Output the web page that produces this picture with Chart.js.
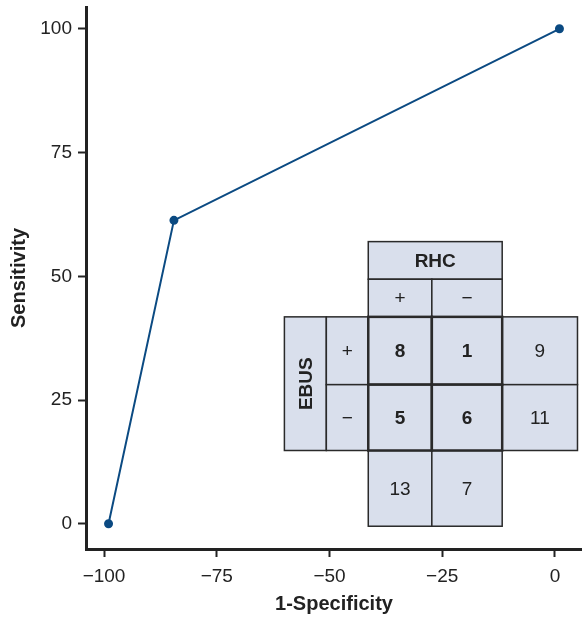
<!DOCTYPE html>
<html>
<head>
<meta charset="utf-8">
<script src="https://cdn.jsdelivr.net/npm/chart.js@4"></script>
<style>
html,body{margin:0;padding:0;background:#fff;}
#wrap{width:582px;height:620px;position:relative;}
</style>
</head>
<body>
<div id="wrap"><canvas id="c" width="582" height="620"></canvas></div>
<script>
// ---- data ----
const oneMinusSpecificity = [-99, -84.5, 1];
const sensitivity = [0, 61.3, 100];
const xTicks = [-100, -75, -50, -25, 0];
const yTicks = [0, 25, 50, 75, 100];

// contingency table (EBUS vs RHC)
const rhcTitle = "RHC";
const ebusTitle = "EBUS";
const rhcLevels = ["+", "\u2212"];
const ebusLevels = ["+", "\u2212"];
const counts = [[8, 1], [5, 6]];
const rowTotals = [9, 11];
const colTotals = [13, 7];

// table grid layout in data coordinates
const tableColEdges = [-60, -50.7, -41.4, -27.3, -11.7, 5.0];
const tableRowEdges = [57.0, 49.4, 41.8, 28.1, 14.8, -0.5];

const FONT = "'Liberation Sans', Arial, Helvetica, sans-serif";
const fmt = v => String(v).replace('-', '\u2212');

// keep the plot area flush with the canvas edges (no extra point padding)
Chart.registry.getController('line').prototype.getMaxOverflow = function () { return 0; };

const tablePlugin = {
  id: 'ctable',
  afterDatasetsDraw(chart) {
    const ctx = chart.ctx;
    const xs = chart.scales.x, ys = chart.scales.y;
    const X = tableColEdges.map(v => xs.getPixelForValue(v));
    const Y = tableRowEdges.map(v => ys.getPixelForValue(v));
    const fill = '#d9dfec';
    const stroke = '#2a2a2a';
    function cell(c0, c1, r0, r1, text, bold, lw, rotate) {
      const x0 = X[c0], x1 = X[c1], y0 = Y[r0], y1 = Y[r1];
      ctx.save();
      ctx.fillStyle = fill;
      ctx.fillRect(x0, y0, x1 - x0, y1 - y0);
      ctx.lineWidth = lw || 1.5;
      ctx.strokeStyle = stroke;
      ctx.strokeRect(x0, y0, x1 - x0, y1 - y0);
      ctx.fillStyle = '#222';
      ctx.font = (bold ? 'bold ' : '') + '19px ' + FONT;
      ctx.textAlign = 'center';
      ctx.textBaseline = 'middle';
      const cx = (x0 + x1) / 2, cy = (y0 + y1) / 2;
      if (rotate) {
        ctx.translate(cx, cy);
        ctx.rotate(-Math.PI / 2);
        ctx.fillText(text, 0, 1);
      } else {
        ctx.fillText(String(text), cx, cy + 1);
      }
      ctx.restore();
    }
    cell(2, 4, 0, 1, rhcTitle, true);
    cell(2, 3, 1, 2, rhcLevels[0], false);
    cell(3, 4, 1, 2, rhcLevels[1], false);
    cell(0, 1, 2, 4, ebusTitle, true, 1.5, true);
    cell(1, 2, 2, 3, ebusLevels[0], false);
    cell(1, 2, 3, 4, ebusLevels[1], false);
    cell(4, 5, 2, 3, rowTotals[0], false);
    cell(4, 5, 3, 4, rowTotals[1], false);
    cell(2, 3, 4, 5, colTotals[0], false);
    cell(3, 4, 4, 5, colTotals[1], false);
    for (let r = 0; r < 2; r++)
      for (let c = 0; c < 2; c++)
        cell(2 + c, 3 + c, 2 + r, 3 + r, counts[r][c], true, 2.5);
  }
};

new Chart(document.getElementById('c'), {
  type: 'line',
  data: {
    datasets: [{
      data: oneMinusSpecificity.map((x, i) => ({x: x, y: sensitivity[i]})),
      borderColor: '#0b4a82',
      backgroundColor: '#0b4a82',
      borderWidth: 2,
      pointRadius: 3.5,
      pointHoverRadius: 3.5,
      tension: 0,
      clip: 8
    }]
  },
  options: {
    responsive: false,
    animation: false,
    layout: {padding: {top: 7, right: 0, left: 0, bottom: 0}},
    plugins: {legend: {display: false}, tooltip: {enabled: false}},
    scales: {
      x: {
        type: 'linear', min: -104, max: 6,
        afterFit(s) { s.height = 71; s.paddingLeft = 0; s.paddingRight = 0; },
        afterBuildTicks(s) { s.ticks = xTicks.map(v => ({value: v})); },
        grid: {display: true, drawOnChartArea: false, drawTicks: true, tickLength: 8, tickWidth: 2, tickColor: '#222'},
        border: {display: true, color: '#222', width: 3},
        ticks: {color: '#222', font: {family: FONT, size: 19}, padding: 8, callback: v => fmt(v), maxRotation: 0},
        title: {display: true, text: '1-Specificity', color: '#222', font: {family: FONT, size: 20, weight: 'bold'}, padding: {top: 10}}
      },
      y: {
        type: 'linear', min: -5.1, max: 104.4,
        afterFit(s) { s.width = 86; s.paddingTop = 0; s.paddingBottom = 0; },
        afterBuildTicks(s) { s.ticks = yTicks.map(v => ({value: v})); },
        grid: {display: true, drawOnChartArea: false, drawTicks: true, tickLength: 8, tickWidth: 2, tickColor: '#222'},
        border: {display: true, color: '#222', width: 3},
        ticks: {color: '#222', font: {family: FONT, size: 19}, padding: 6, callback: v => fmt(v)},
        title: {display: true, text: 'Sensitivity', color: '#222', font: {family: FONT, size: 20, weight: 'bold'}, padding: {top: 7, bottom: 0}}
      }
    }
  },
  plugins: [tablePlugin]
});
</script>
</body>
</html>
